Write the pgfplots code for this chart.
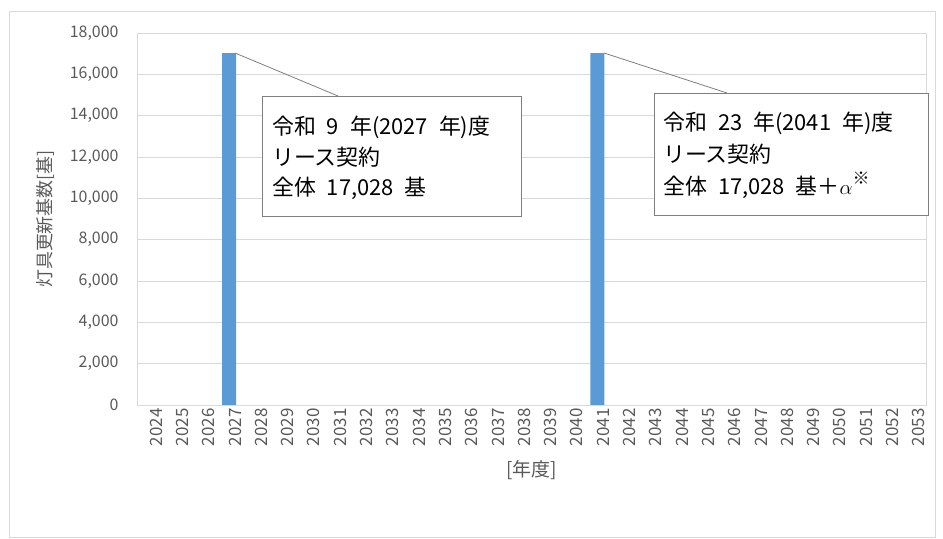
\documentclass[border=0pt]{standalone}
\usepackage{fontspec}
\setmainfont{Noto Sans CJK JP}
\usepackage{pgfplots}
\pgfplotsset{compat=1.18}
\definecolor{barblue}{HTML}{5B9BD5}
\definecolor{gridgray}{HTML}{D9D9D9}
\definecolor{txtgray}{HTML}{595959}
\definecolor{boxgray}{HTML}{7F7F7F}
\begin{document}
\begin{tikzpicture}
\path[use as bounding box] (0bp,0bp) rectangle (943bp,539bp);
\draw[gridgray] (9.5bp,2bp) rectangle (935bp,528bp);
\begin{axis}[
  at={(137bp,134bp)}, anchor=south west,
  scale only axis, width=789bp, height=372bp,
  xmin=-0.5, xmax=29.5, ymin=0, ymax=18000,
  ytick={0,2000,4000,6000,8000,10000,12000,14000,16000,18000},
  xtick={0,1,2,3,4,5,6,7,8,9,10,11,12,13,14,15,16,17,18,19,20,21,22,23,24,25,26,27,28,29},
  xticklabels={2024,2025,2026,2027,2028,2029,2030,2031,2032,2033,2034,2035,2036,2037,2038,2039,2040,2041,2042,2043,2044,2045,2046,2047,2048,2049,2050,2051,2052,2053},
  ybar, bar width=14bp,
  ymajorgrids, grid style={gridgray, line width=0.8bp},
  axis line style={gridgray, line width=0.8bp},
  major tick length=0pt,
  /pgf/number format/assume math mode=true,
  /pgf/number format/1000 sep={,},
  scaled y ticks=false,
  yticklabel style={font=\fontsize{16}{16}\selectfont, text=txtgray, xshift=-15bp},
  xticklabel style={font=\fontsize{17}{17}\selectfont, text=txtgray, rotate=90, anchor=east, xshift=0bp, yshift=-6bp},
  ylabel={灯具更新基数[基]},
  ylabel style={at={(axis description cs:-0.1166,0.5)}, rotate=0, anchor=center, font=\fontsize{18}{18}\selectfont, text=txtgray},
  xlabel={[年度]},
  xlabel style={at={(axis description cs:0.5,-0.1747)}, anchor=center, font=\fontsize{19}{19}\selectfont, text=txtgray},
]
\addplot[fill=barblue, draw=none] coordinates {(3,17028) (17,17028)};
\end{axis}
% callout 1
\draw[boxgray, line width=0.8bp] (235bp,486bp) -- (338bp,443bp);
\draw[boxgray, line width=0.9bp, fill=white] (262bp,323bp) rectangle (521bp,443bp);
\begin{scope}[every node/.style={anchor=base west, inner sep=0pt, font=\fontsize{22}{22}\selectfont}]
\node at (272bp,404.4bp) {令和\enspace 9\enspace 年(2027\enspace 年)度};
\node at (272bp,373.4bp) {リース契約};
\node at (272bp,343.4bp) {全体\enspace 17,028\enspace 基};
\end{scope}
% callout 2
\draw[boxgray, line width=0.8bp] (604bp,486bp) -- (727bp,446bp);
\draw[boxgray, line width=0.9bp, fill=white] (654bp,324bp) rectangle (928bp,446bp);
\begin{scope}[every node/.style={anchor=base west, inner sep=0pt, font=\fontsize{22}{22}\selectfont}]
\node at (663bp,408.4bp) {令和\enspace 23\enspace 年(2041\enspace 年)度};
\node at (663bp,376.4bp) {リース契約};
\node at (663bp,344.4bp) {全体\enspace 17,028\enspace 基＋$\alpha$\raisebox{10bp}{\fontsize{17}{17}\selectfont ※}};
\end{scope}
\end{tikzpicture}
\end{document}
